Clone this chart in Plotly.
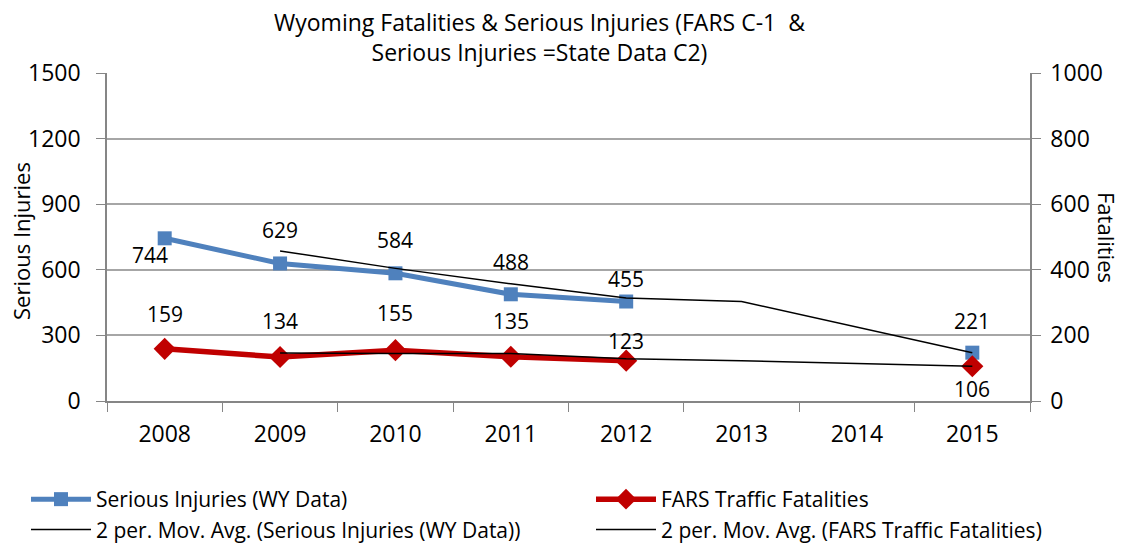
import plotly.graph_objects as go

years = ["2008", "2009", "2010", "2011", "2012", "2013", "2014", "2015"]
serious_injuries = [744, 629, 584, 488, 455, None, None, 221]
fatalities = [159, 134, 155, 135, 123, None, None, 106]


def moving_avg_2(vals):
    # Excel-style 2 period moving average, blanks skipped
    out = [None]
    for i in range(1, len(vals)):
        win = [v for v in vals[i - 1:i + 1] if v is not None]
        out.append(sum(win) / len(win) if win else None)
    return out


si_ma = moving_avg_2(serious_injuries)
fat_ma = moving_avg_2(fatalities)

BLUE = "#4F81BD"
RED = "#C00000"
FONT = "Open Sans"
OFF = 8  # page body margin
W, H = 1125 - OFF, 544 - OFF
# plot area edges, given in page px
PL, PR, PT, PB = 107 - OFF, 1030 - OFF, 73 - OFF, 401 - OFF


def px_x(p):
    return (p - OFF - PL) / (PR - PL)


def px_y(p):
    return (PB - (p - OFF)) / (PB - PT)


fig = go.Figure()

fig.add_trace(go.Scatter(
    x=years, y=serious_injuries, name="Serious Injuries (WY Data)",
    legend="legend", legendgroup="a",
    mode="lines+markers", line=dict(color=BLUE, width=5),
    marker=dict(symbol="square", size=14, color=BLUE), connectgaps=False
))
fig.add_trace(go.Scatter(
    x=years, y=fatalities, name="FARS Traffic Fatalities", yaxis="y2",
    legend="legend2", legendgroup="b",
    mode="lines+markers", line=dict(color=RED, width=5.5),
    marker=dict(symbol="diamond", size=17, color=RED), connectgaps=False
))
fig.add_trace(go.Scatter(
    x=years, y=si_ma, name="2 per. Mov. Avg. (Serious Injuries (WY Data))",
    legend="legend", legendgroup="c",
    mode="lines", line=dict(color="black", width=1.5), connectgaps=True
))
fig.add_trace(go.Scatter(
    x=years, y=fat_ma, name="2 per. Mov. Avg. (FARS Traffic Fatalities)", yaxis="y2",
    legend="legend2", legendgroup="d",
    mode="lines", line=dict(color="black", width=1.5), connectgaps=True
))

# data labels (offsets in px, like the Excel label placement)
si_off = [(-15, -17), (0, 33), (0, 33), (0, 32), (0, 23), None, None, (0, 32)]
fat_off = [(0, 35), (0, 36), (0, 37), (0, 36), (0, 20), None, None, (0, -23)]
for i, (v, off) in enumerate(zip(serious_injuries, si_off)):
    if v is None:
        continue
    fig.add_annotation(x=i, y=v, xref="x", yref="y", text=str(v), showarrow=False,
                       xshift=off[0], yshift=off[1], font=dict(size=21, color="black"))
for i, (v, off) in enumerate(zip(fatalities, fat_off)):
    if v is None:
        continue
    fig.add_annotation(x=i, y=v, xref="x", yref="y2", text=str(v), showarrow=False,
                       xshift=off[0], yshift=off[1], font=dict(size=21, color="black"))

# axis titles
fig.add_annotation(xref="paper", yref="paper", x=px_x(21), y=px_y(241), xanchor="center",
                   yanchor="middle", text="Serious Injuries",
                   textangle=-90, showarrow=False, font=dict(size=22, color="black"))
fig.add_annotation(xref="paper", yref="paper", x=px_x(1107), y=px_y(237), xanchor="center",
                   yanchor="middle", text="Fatalities",
                   textangle=90, showarrow=False, font=dict(size=22, color="black"))

# chart title
fig.add_annotation(
    xref="paper", yref="paper", x=px_x(539), y=px_y(37), xanchor="center", yanchor="middle",
    text="Wyoming Fatalities & Serious Injuries (FARS C-1  &<br>Serious Injuries =State Data C2)",
    showarrow=False, font=dict(size=23, color="black")
)

legend_style = dict(
    orientation="v", xanchor="left", yanchor="top",
    font=dict(size=21), itemwidth=60, tracegroupgap=0, bgcolor="rgba(0,0,0,0)"
)

fig.update_layout(
    width=W, height=H,
    paper_bgcolor="white", plot_bgcolor="white",
    font=dict(family=FONT, size=21, color="black"),
    margin=dict(l=PL, r=W - PR, t=PT, b=H - PB, autoexpand=False),
    xaxis=dict(
        type="category", range=[-0.5, 7.5], tickson="boundaries",
        ticks="outside", ticklen=9, tickcolor="#868686",
        showline=True, linecolor="#868686", linewidth=1.5,
        showgrid=False, tickfont=dict(size=23), ticklabelstandoff=12
    ),
    yaxis=dict(
        range=[0, 1500], tickvals=[0, 300, 600, 900, 1200, 1500],
        ticks="outside", ticklen=9, tickcolor="#868686",
        showline=True, linecolor="#868686", linewidth=1.5,
        showgrid=True, gridcolor="#A6A6A6", gridwidth=1.5,
        zeroline=False, tickfont=dict(size=23), ticklabelstandoff=11
    ),
    yaxis2=dict(
        overlaying="y", side="right",
        range=[0, 1000], tickvals=[0, 200, 400, 600, 800, 1000],
        ticks="outside", ticklen=9, tickcolor="#868686",
        showline=True, linecolor="#868686", linewidth=1.5,
        showgrid=False, zeroline=False, tickfont=dict(size=23), ticklabelstandoff=5
    ),
    showlegend=True,
    legend=dict(x=px_x(26), y=px_y(479), **legend_style),
    legend2=dict(x=px_x(591), y=px_y(479), **legend_style),
)

fig.write_html("out.html")
